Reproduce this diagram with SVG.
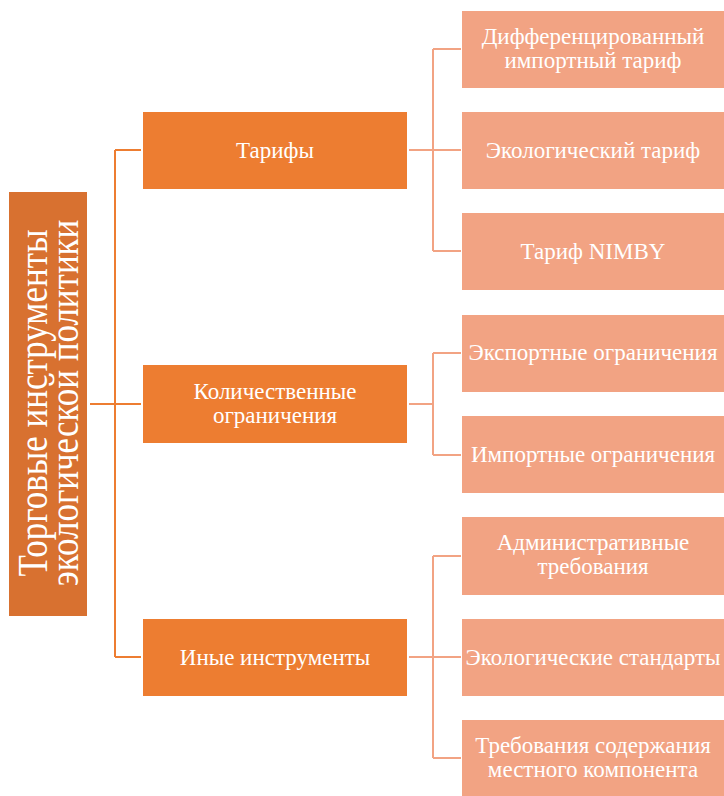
<svg xmlns="http://www.w3.org/2000/svg" width="724" height="796" viewBox="0 0 724 796" font-family="'Liberation Serif', 'Times New Roman', serif">
<style>
text{font-family:"Liberation Serif","Times New Roman",serif;fill:#fff;text-anchor:middle;}
.root rect{fill:#D87130;}
.mid rect{fill:#ED7D31;}
.leaf rect{fill:#F2A383;}
.t{font-size:23px;}
.r{font-size:35px;}
.c1{stroke:#ED7D31;stroke-width:2;fill:none;}
.c2{stroke:#F2A383;stroke-width:2;fill:none;}
</style>
<rect width="724" height="796" fill="#fff"/>
<g id="connectors">
<path class="c1" d="M90 404H141M115 150V657M115 150H141M115 657H141"/>
<path class="c2" d="M409 150H433M433 49V251M433 49H461M433 150H461M433 251H461"/>
<path class="c2" d="M409 404H433M433 353V455M433 353H461M433 455H461"/>
<path class="c2" d="M409 657H433M433 556V758M433 556H461M433 657H461M433 758H461"/>
</g>
<g id="root" class="root">
<rect x="9" y="192" width="78" height="424"/>
<text class="r" transform="translate(47 403) rotate(-90) scale(1 1.2)"><tspan x="0" y="0">Торговые инструменты</tspan><tspan x="0" y="26">экологической политики</tspan></text>
</g>
<g id="n-tariffs" class="mid">
<rect x="143" y="112" width="264" height="77"/>
<text class="t" x="275" y="158">Тарифы</text>
</g>
<g id="n-quant" class="mid">
<rect x="143" y="365" width="264" height="78"/>
<text class="t" x="275" y="399">Количественные</text>
<text class="t" x="275" y="423">ограничения</text>
</g>
<g id="n-other" class="mid">
<rect x="143" y="619" width="264" height="77"/>
<text class="t" x="275" y="665">Иные инструменты</text>
</g>
<g id="l1" class="leaf">
<rect x="462" y="11" width="262" height="77"/>
<text class="t" x="593" y="44">Дифференцированный</text>
<text class="t" x="593" y="68">импортный тариф</text>
</g>
<g id="l2" class="leaf">
<rect x="462" y="112" width="262" height="77"/>
<text class="t" x="593" y="158">Экологический тариф</text>
</g>
<g id="l3" class="leaf">
<rect x="462" y="213" width="262" height="77"/>
<text class="t" x="593" y="259">Тариф NIMBY</text>
</g>
<g id="l4" class="leaf">
<rect x="462" y="315" width="262" height="77"/>
<text class="t" x="593" y="360">Экспортные ограничения</text>
</g>
<g id="l5" class="leaf">
<rect x="462" y="416" width="262" height="77"/>
<text class="t" x="593" y="462">Импортные ограничения</text>
</g>
<g id="l6" class="leaf">
<rect x="462" y="517" width="262" height="78"/>
<text class="t" x="593" y="550">Административные</text>
<text class="t" x="593" y="574">требования</text>
</g>
<g id="l7" class="leaf">
<rect x="462" y="619" width="262" height="77"/>
<text class="t" x="593" y="665">Экологические стандарты</text>
</g>
<g id="l8" class="leaf">
<rect x="462" y="720" width="262" height="76"/>
<text class="t" x="593" y="753">Требования содержания</text>
<text class="t" x="593" y="777">местного компонента</text>
</g>
</svg>
